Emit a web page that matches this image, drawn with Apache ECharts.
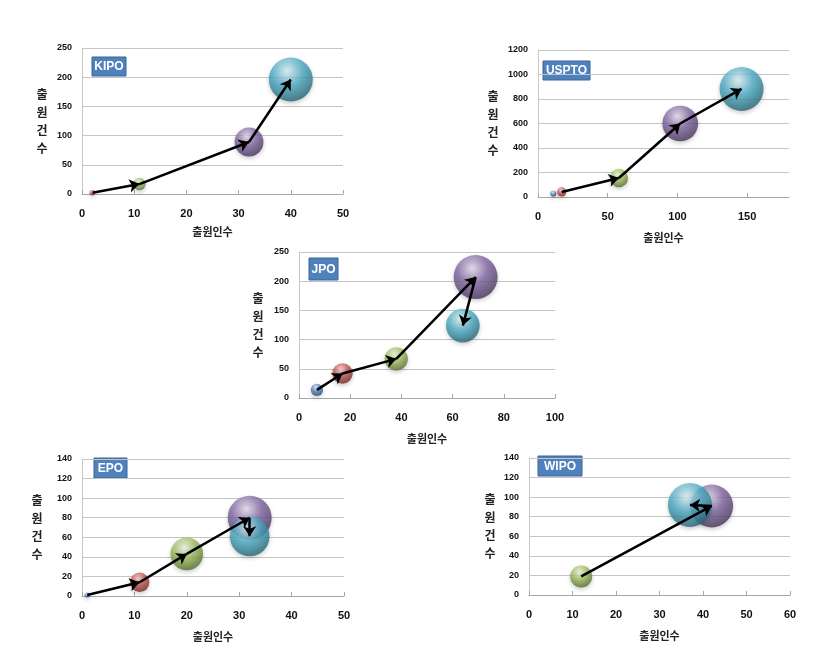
<!DOCTYPE html>
<html><head><meta charset="utf-8">
<script src="https://cdn.jsdelivr.net/npm/echarts@6/dist/echarts.min.js"></script>
<style>html,body{margin:0;padding:0;background:#fff}#c{width:815px;height:653px}</style>
</head><body><div id="c"></div>
<script>
// ---- data (points in period order: 1 blue, 2 red, 3 green, 4 purple, 5 cyan) ----
const offices = ['KIPO', 'USPTO', 'JPO', 'EPO', 'WIPO'];
const xTitle = '출원인수';
const yTitle = '출원건수';

const kipoApplicants   = [null, 2, 11, 32, 40];
const kipoApplications = [null, 2, 17, 89, 196];
const kipoBubble       = [null, 1.6, 8, 43, 100];

const usptoApplicants   = [11, 17, 58, 102, 146];
const usptoApplications = [27, 41, 155, 600, 882];
const usptoBubble       = [1.9, 4.4, 17.5, 66, 100];

const jpoApplicants   = [7, 17, 38, 69, 64];
const jpoApplications = [14, 42, 67, 207, 124];
const jpoBubble       = [7.8, 21.6, 28, 100, 59];

const epoApplicants   = [1, 11, 20, 32, 32];
const epoApplications = [1, 14, 43, 80, 61];
const epoBubble       = [1.4, 19.5, 55, 100, 82];

const wipoApplicants   = [null, null, 12, 42, 37];
const wipoApplications = [null, null, 19, 91, 92];
const wipoBubble       = [null, null, 25, 95, 100];

const arrowFrom = [1, 1, 0, 0, 2];        // first point of each arrow chain
const xMaxes = [50, 180, 100, 50, 60];
const xSteps = [10, 50, 20, 10, 10];
const yMaxes = [250, 1200, 250, 140, 140];
const ySteps = [50, 200, 50, 20, 20];

const panels = [
  [kipoApplicants, kipoApplications, kipoBubble],
  [usptoApplicants, usptoApplications, usptoBubble],
  [jpoApplicants, jpoApplications, jpoBubble],
  [epoApplicants, epoApplications, epoBubble],
  [wipoApplicants, wipoApplications, wipoBubble]
];

// ---- layout & style ----
const grids = [
  {left: 82, top: 48, width: 261, height: 146},
  {left: 538, top: 50, width: 251, height: 147},
  {left: 299, top: 252, width: 256, height: 146},
  {left: 82, top: 459, width: 262, height: 137},
  {left: 529, top: 458, width: 261, height: 137}
];
const boxes = [
  {x: 92, y: 57, w: 34, h: 19},
  {x: 543, y: 61, w: 47, h: 19},
  {x: 309, y: 258, w: 29, h: 22},
  {x: 94, y: 458, w: 33, h: 20},
  {x: 538, y: 456, w: 44, h: 20}
];
const yNameGaps = [40, 45, 41, 45, 39];
const xNameGaps = [32, 35, 35, 35, 35];

function sphere(light, base, dark) {
  return {type: 'radial', x: 0.42, y: 0.3, r: 0.78,
    colorStops: [{offset: 0, color: light}, {offset: 0.45, color: base}, {offset: 1, color: dark}]};
}
const ballColors = [
  sphere('#d2e0f3', '#4f81bd', '#203a5c'),
  sphere('#f4cfce', '#c0504d', '#5e2120'),
  sphere('#eef4e1', '#9bbb59', '#4a5d24'),
  sphere('#e3dcec', '#8064a2', '#3a2d4b'),
  sphere('#def0f5', '#4bacc6', '#1d5664')
];

const option = {
  animation: false,
  grid: grids.map(g => Object.assign({outerBoundsMode: 'none', containLabel: false}, g)),
  xAxis: grids.map((g, i) => ({
    type: 'value', gridIndex: i, min: 0, max: xMaxes[i], interval: xSteps[i],
    axisLine: {show: true, lineStyle: {color: '#a6a6a6', width: 1}},
    axisTick: {show: true, inside: true, length: 4, lineStyle: {color: '#a6a6a6'}},
    splitLine: {show: false},
    axisLabel: {fontSize: 11, fontWeight: 'bold', color: '#111', margin: 14,
      fontFamily: 'Liberation Sans', showMaxLabel: xMaxes[i] % xSteps[i] === 0},
    name: xTitle, nameLocation: 'middle', nameGap: xNameGaps[i],
    nameTextStyle: {fontFamily: 'Noto Sans CJK KR', fontSize: 11, fontWeight: 'bold', color: '#222'}
  })),
  yAxis: grids.map((g, i) => ({
    type: 'value', gridIndex: i, min: 0, max: yMaxes[i], interval: ySteps[i],
    axisLine: {show: true, lineStyle: {color: '#c8c8c8', width: 1}},
    axisTick: {show: false},
    splitLine: {show: true, lineStyle: {color: '#c4c4c4', width: 1}},
    axisLabel: {fontSize: 9, fontWeight: 'bold', color: '#111', margin: 10, fontFamily: 'Liberation Sans',
      formatter: v => String(v)},
    name: yTitle.split('').join('\n'), nameLocation: 'middle', nameRotate: 0, nameGap: yNameGaps[i],
    nameTextStyle: {fontFamily: 'Noto Sans CJK KR', fontSize: 12, fontWeight: 'bold', color: '#222',
      lineHeight: 18, align: 'center'}
  })),
  graphic: boxes.map((b, i) => ({
    type: 'group', x: b.x, y: b.y, z: 20,
    children: [
      {type: 'rect', shape: {x: 0, y: 0, width: b.w, height: b.h},
       style: {fill: '#4f81bd', stroke: '#3b6495', lineWidth: 1}},
      {type: 'text', x: b.w / 2, y: b.h / 2 + 0.5,
       style: {text: offices[i], fill: '#fff', fontSize: 12, fontWeight: 'bold',
         fontFamily: 'Liberation Sans', align: 'center', verticalAlign: 'middle'}}
    ]
  })),
  series: []
};

panels.forEach((p, i) => {
  const [xs, ys, ss] = p;
  const pts = [];
  xs.forEach((x, k) => {
    if (x === null) return;
    pts.push({value: [x, ys[k], ss[k]], itemStyle: {color: ballColors[k],
      shadowBlur: 4, shadowColor: 'rgba(0,0,0,0.25)', shadowOffsetY: 2}});
  });
  option.series.push({
    type: 'scatter', xAxisIndex: i, yAxisIndex: i, data: pts,
    symbolSize: v => 44 * Math.sqrt(v[2] / 100), z: 2, silent: true
  });
  const segs = [];
  for (let k = arrowFrom[i]; k < xs.length - 1; k++) {
    if (xs[k] === null || xs[k + 1] === null) continue;
    segs.push({coords: [[xs[k], ys[k]], [xs[k + 1], ys[k + 1]]]});
  }
  option.series.push({
    type: 'lines', coordinateSystem: 'cartesian2d', xAxisIndex: i, yAxisIndex: i,
    symbol: ['none', 'arrow'], symbolSize: 10, z: 5, silent: true,
    lineStyle: {color: '#000', width: 2.5, opacity: 1}, data: segs
  });
});

const chart = echarts.init(document.getElementById('c'), null, {renderer: 'canvas'});
chart.setOption(option);
</script>
</body></html>
